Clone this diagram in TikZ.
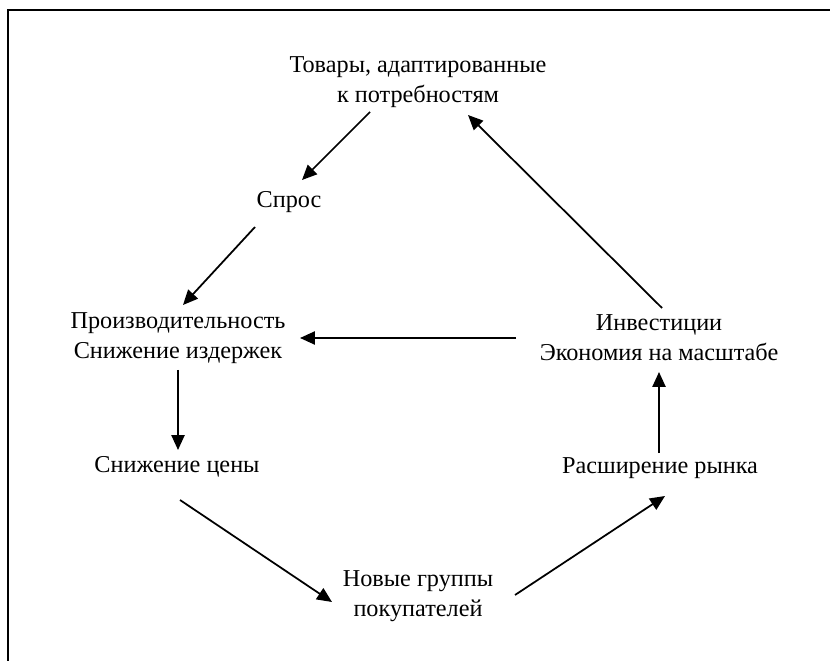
\documentclass[tikz,border=0pt]{standalone}
\usepackage{fontspec}
\setmainfont{Liberation Serif}
\usetikzlibrary{arrows.meta}
\tikzset{
  stage/.style = {align=center, font=\fontsize{13.8}{17}\selectfont, inner sep=2pt},
  link/.style  = {draw, line width=1pt, -{Triangle[length=8.5pt,width=7.5pt]}}
}

\begin{document}
\begin{tikzpicture}[x=0.02cm, y=-0.02cm]
\useasboundingbox (0,0) rectangle (830,661);
\draw [line width=0.9pt] (830,10) -- (8,10) -- (8,661);

\node [stage] (goods)  at (418,82)  {Товары, адаптированные\\к потребностям};
\node [stage] (demand) at (289,202) {Спрос};
\node [stage] (prod)   at (178,338) {Производительность\\Снижение издержек};
\node [stage] (invest) at (659,338) {Инвестиции\\Экономия на масштабе};
\node [stage] (price)  at (177,467) {Снижение цены};
\node [stage] (market) at (660,468) {Расширение рынка};
\node [stage] (buyers) at (418,596) {Новые группы\\покупателей};

\draw [link] ([shift={(-48,30)}]goods.center)   -- ([shift={(13,-22)}]demand.center);
\draw [link] ([shift={(-34,25)}]demand.center)  -- ([shift={(5,-33)}]prod.center);
\draw [link] ([shift={(0,32)}]prod.center)      -- ([shift={(1,-17)}]price.center);
\draw [link] ([shift={(3,33)}]price.center)     -- ([shift={(-86,6)}]buyers.center);
\draw [link] ([shift={(97,-1)}]buyers.center)   -- ([shift={(5,28)}]market.center);
\draw [link] ([shift={(-1,-15)}]market.center)  -- ([shift={(0,34)}]invest.center);
\draw [link] ([shift={(-143,0)}]invest.center)  -- ([shift={(122,0)}]prod.center);
\draw [link] ([shift={(3,-30)}]invest.center)   -- ([shift={(50,33)}]goods.center);
\end{tikzpicture}
\end{document}
